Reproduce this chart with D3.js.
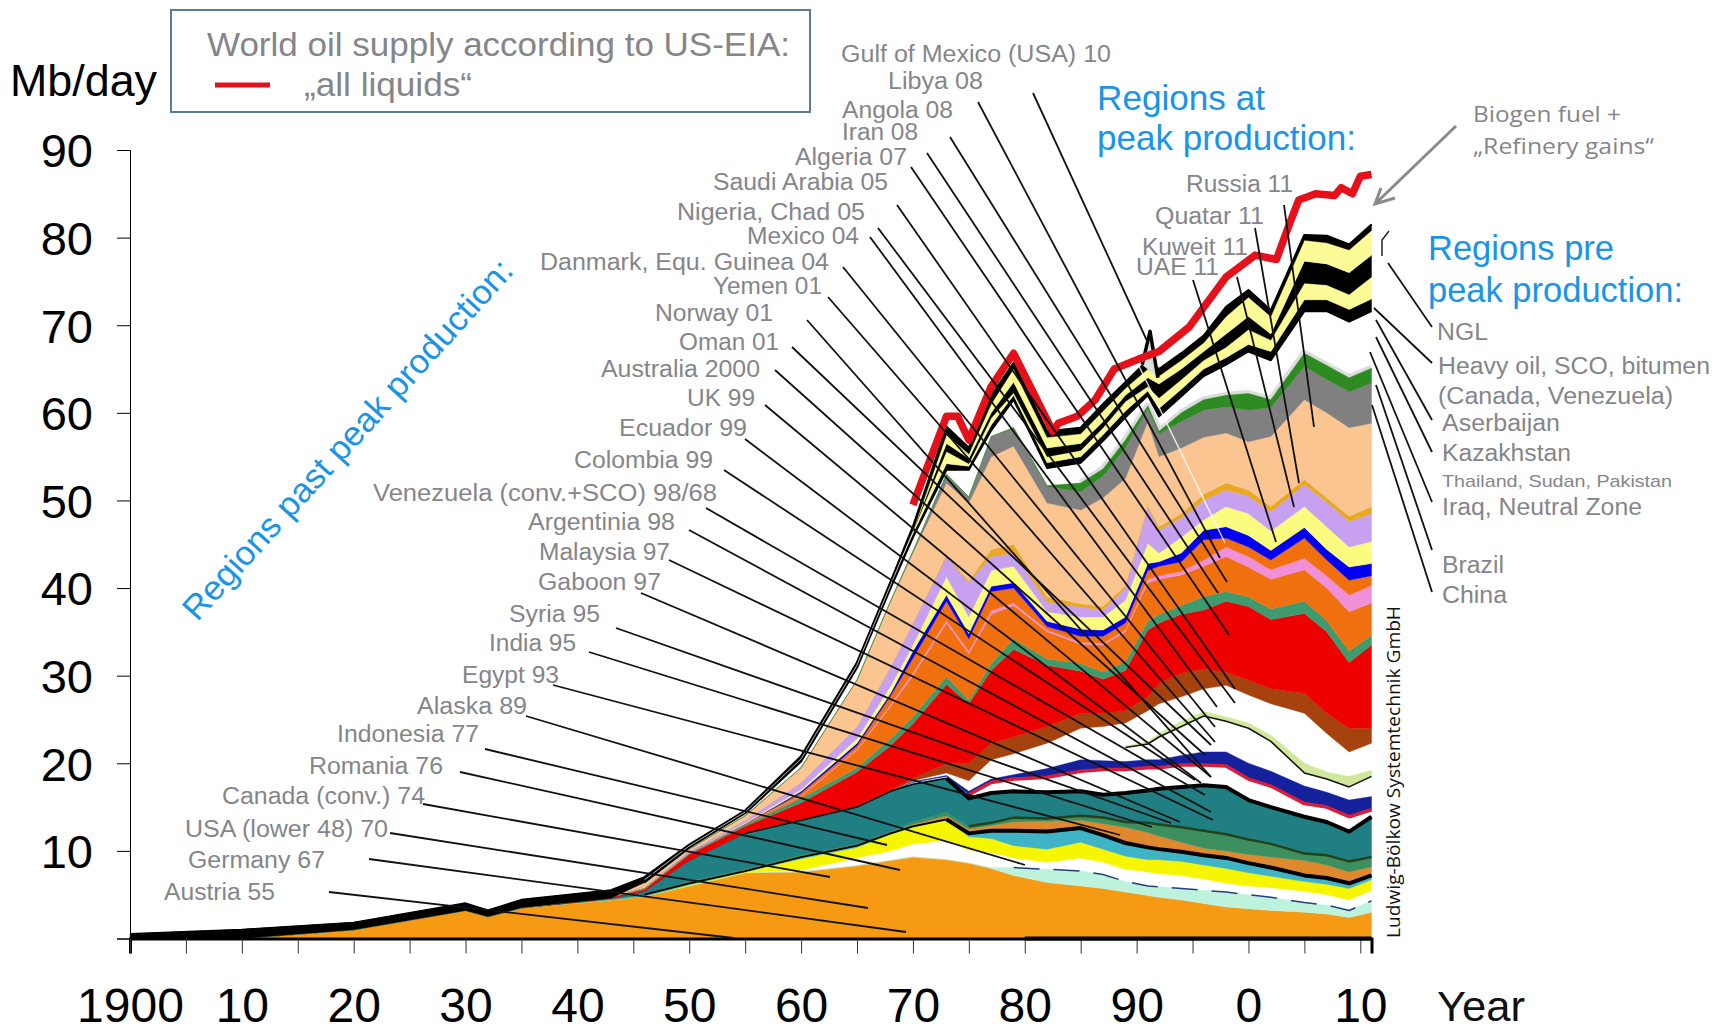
<!DOCTYPE html>
<html>
<head>
<meta charset="utf-8">
<script src="https://cdn.jsdelivr.net/npm/d3@7"></script>
<style>
  html, body { margin: 0; background: #fff; }
  text { font-family: "Liberation Sans", Arial, sans-serif; }
</style>
</head>
<body>
<div id="d3-container"></div>
<script>
// years the picture was read at, one value per year in every array below
const years = [1900,1910,1920,1930,1932,1935,1943,1946,1950,1955,1960,1965,1968,1970,1973,1975,1977,1979,1982,1985,1987,1989,1991,1992,1994,1996,1998,2000,2002,2005,2007,2009,2011];

// upper edges of the layers in Mb/day, bottom to top
const orangeTop = [0,0,1,3.2,2.5,3.5,4.4,4.8,6,7.5,7.6,8.3,8.9,9.3,9,8.6,8,7.2,6.4,6,5.7,5.3,4.9,4.7,4.4,4,3.6,3.4,3.2,3,2.8,2.4,3];
const mintTop = [0,0,1,3.2,2.5,3.5,4.4,4.8,6,7.5,7.6,8.3,8.9,9.3,9,8.6,8.1,8.1,7.9,7.7,7.3,6.5,6,5.9,5.7,5.5,5.3,5,4.7,4.1,3.8,3.2,4.3];
const yellowBase = [0,0,1,3.2,2.5,3.5,4.4,4.8,6,7.5,7.8,9.2,10,10.8,11.2,10.1,9.8,9.2,8.7,9.2,8.7,7.9,7.6,7.4,7.2,6.8,6.3,6,5.8,5.4,5,4.4,5.5];
const yellowTop = [0,0,1,3.2,2.5,3.5,4.4,4.8,6.1,7.6,9.1,10.4,11.9,12.7,13.5,11.6,11.4,10.6,10.2,11,10.2,9.4,9,9,8.8,8.4,8,7.5,7.1,6.5,6.2,5.7,6.7];
const cyanTop = [0,0,1,3.2,2.5,3.5,4.5,5,6.3,7.7,9.3,10.6,12,12.8,13.6,12,12.3,12.3,12.2,12.6,11.8,10.9,10.4,10.2,9.9,9.5,9.2,8.6,8.1,7.2,6.9,6.3,7.2];
const rustTop = [0,0,1,3.2,2.5,3.5,4.5,5,6.4,7.8,9.4,10.7,12.1,13,14,12.5,12.9,13.3,13.4,13.5,13.1,12.7,12.1,11.7,11,10.3,10,9.6,9.3,8.9,8.4,7.6,8.2];
const greenLowTop = [0,0,1,3.2,2.5,3.5,4.5,5,6.5,7.9,9.5,10.8,12.2,13.3,14.4,12.8,13.2,13.8,13.7,14,13.8,13.3,13.2,13,12.7,12.3,11.9,11.3,10.8,9.7,9.5,8.8,9.3];
const tealTop = [0,0,1,3.2,2.5,3.5,4.6,5.4,8.9,12,13.5,15,16.8,17.6,18.3,16,16.6,16.8,16.7,16.8,16.4,16.6,16.9,17.1,17.3,17.5,17.3,15.8,15,13.9,13.3,12.2,13.9];
const bandBase = [0,0,1,3.2,2.5,3.5,4.6,5.4,8.9,12,13.5,15,16.8,17.8,18.5,16.4,17.8,18.2,18.4,19.1,19.3,19.3,19.5,19.5,19.8,19.8,19.7,18.2,17.4,15.4,15,13.9,14.7];
const bandTop = [0,0,1,3.2,2.5,3.5,4.6,5.4,8.9,12,13.5,15,16.8,17.9,18.6,16.8,18.2,18.7,19.4,20.4,20.3,20.2,20.4,20.4,20.9,21.3,21.3,20,19.1,17.4,16.7,15.8,16.2];
const thinBase = [null,null,null,null,null,null,null,null,null,null,null,null,null,null,null,null,null,null,null,null,null,21.8,22.2,23,24.2,25.4,24.8,24,22.5,18.9,18.2,17.3,18.5];
const thinTop = [null,null,null,null,null,null,null,null,null,null,null,null,null,null,null,null,null,null,null,null,null,22,22.5,23.4,24.8,25.9,25.3,24.6,23.2,20,19,18.5,19.2];
const brownBase = [0,0,1,3.2,2.5,3.5,4.6,5.4,8.9,12,13.5,15,16.8,18,18.9,18,20.4,21.1,22.3,24,24.2,24.6,26,26.8,27.6,28.5,28.9,27.8,26.8,25.7,23.4,21.3,22.3];
const brownTop = [0,0,1,3.2,2.5,3.5,4.6,5.4,8.9,12,13.5,15,16.9,18.3,20,20,22.3,23,24.2,25.7,25.7,26,27.6,29.1,30.3,30.8,30.4,29.5,28.5,28,25.7,24,24];
const redTop = [0,0,1,3.2,2.5,3.5,4.7,5.6,9.6,12.8,15.5,19,22,24.5,29,26.8,30.6,33,31.2,30.5,29.6,30.6,35.2,36,37,37.5,38.5,37.9,36.4,37.1,35,31.5,33.5];
const seaTop = [0,0,1,3.2,2.5,3.5,4.7,5.7,9.7,13,16,19.5,22.8,25.3,29.9,27.2,31.4,34.2,31.9,31.4,30.4,31.6,36.2,37,38,39,39.6,39,37.6,38.5,36.3,32.8,34.6];
const flameLowTop = [0,0,1,3.2,2.5,3.5,4.8,5.8,9.8,13.1,16.2,21.5,26.5,30,36,32.5,37,38,35,33.6,33.5,35,40.6,41,41.5,42.5,43.6,42.4,41,42.1,40,37.3,38.3];
const pinkTop = [0,0,1,3.2,2.5,3.5,4.8,5.8,9.8,13.1,16.3,21.6,26.7,30.3,36.3,32.8,37.4,38.3,35.2,33.8,33.7,35.2,41,41.4,41.9,43.2,44.7,43.6,42.1,43.4,41.4,39.2,40.3];
const flameHighTop = [0,0,1,3.2,2.5,3.5,4.8,5.8,9.8,13.1,16.6,22,27.7,32,38.5,34.2,39.6,40,35.6,34.5,34.5,36,42,42.5,43,45.5,45.7,44.7,43.2,45.7,43.2,40.9,41.4];
const blueTop = [0,0,1,3.2,2.5,3.5,4.8,5.8,9.8,13.1,16.8,22.3,28,32.8,39.2,34.8,40.2,40.6,36.2,35.3,35.2,36.7,42.8,43,44,46.6,47,46,44.3,46.9,44.4,42.4,42.8];
const paleTop = [0,0,1,3.2,2.5,3.5,4.8,5.9,9.8,13.2,17,22.8,28.8,33.5,41.3,36.7,42,42.5,37.3,36.7,36.7,38.6,45.1,44,45.8,47.8,49.3,48.5,46.5,49.3,47,44.7,45.3];
const purpleTop = [0,0,1,3.2,2.5,3.5,4.8,6,10,13.5,17.8,24.2,31,36,43.6,40.6,43.6,44,38.4,37.8,37.5,40,49.3,46.6,48,50,51.2,50.5,48.7,51.8,49.8,47.6,48.5];
const goldTop = [0,0,1,3.2,2.5,3.5,4.8,6,10,13.5,17.8,24.2,31,36,43.8,40.8,44.4,45,39,38.2,37.9,40.3,49.5,47,48.5,50.7,52,51.2,49.3,52.4,50.3,48.2,49.3];
const peachTop = [0,0,1,3.2,2.5,3.5,4.9,6.4,10.2,14,19.5,29.5,38.5,44,52,49.7,55,56.2,49.7,48.9,50.3,52.5,59,55,56,57.2,57.7,56.7,57.3,61.5,60,58.3,58.8];
const greyTop = [0,0,1,3.2,2.5,3.5,4.9,6.4,10.2,14,19.5,29.5,38.5,44.2,53,50.4,57.3,58.3,51.6,51,52.8,56,60.5,57.6,59,60.3,60.7,60.3,60.6,65.3,63.8,62.4,63.4];
const greenHighTop = [0,0,1,3.2,2.5,3.5,4.9,6.4,10.2,14,19.5,29.5,38.5,44.2,53,50.4,57.3,58.3,51.7,52,53.6,56.9,60.8,57.9,60,61.5,62,62.2,61.5,66.8,65.4,64,65.1];

// the black and yellow bands on top of the stack
const stackBase = [0,0,1,3.2,2.5,3.5,4.6,6.4,10.4,14.3,20.2,30.9,40,45.8,53.5,53.5,58,61.5,53.7,54.3,56.8,59.5,62,59.6,61.9,64.2,65.5,67,66,71.6,71.6,70.4,71.6];
const yellowOneBase = [0.5,1,1.8,4,3.2,4.4,5.5,7,10.7,14.6,20.8,31.5,40.7,46.2,54.2,53.9,58.6,62,54.3,55,57.5,60.2,62.5,60.5,62.7,65,66.3,67.8,67,72.9,72.9,71.8,73];
const yellowOneTop = [0.5,1,1.8,4,3.2,4.4,5.5,7,10.7,14.6,20.8,31.5,40.7,46.5,55.6,54.2,59.4,62.3,55,55.7,58.3,61.3,63,61.7,63.8,66,67.5,69.5,68.3,74.8,74.6,73.5,75.5];
const yellowTwoBase = [0.5,1,1.8,4,3.2,4.4,5.5,7,10.7,14.6,20.8,31.5,40.7,46.5,56.5,54.8,60,63.5,56,56.5,59,62,64,63.3,65,67,69,71,69,77.3,77,76,78];
const yellowTwoTop = [0.5,1,1.8,4,3.2,4.4,5.5,7,10.7,14.6,20.8,31.5,40.7,46.5,57.5,55.3,61,65,57.2,57.6,60.2,62.8,65,64.2,66,68,71,73.2,71,79.7,79.4,78.6,80.8];
const stackTop = [0.5,1,1.8,4,3.2,4.4,5.5,7,10.7,14.6,20.8,31.5,40.7,47,58.4,56,62,65.7,57.9,58.3,61,63.5,66,65,66.8,68.8,72.1,74,71.7,80.3,80.2,79.2,81.5];

// light seam inside the black bundle before 1970
const seamYears = [1946,1950,1955,1960,1965,1968,1970];
const seamValues = [6.7,10.55,14.45,20.5,31.2,40.35,46.4];

// narrow spike of the black bundle at the 1991 peak
const spikeYears = [1990.5,1991.2,1991.9];
const spikeValues = [65.5,69.3,64];

// red "all liquids" line
const liquidYears = [1970,1973,1974,1975,1977,1979,1982.5,1983,1984.7,1986.3,1988,1990.7,1992,1994.7,1998,2000.6,2002.5,2003.5,2004.5,2006,2007.7,2008.3,2009.3,2010,2011];
const liquidValues = [49.5,59.6,59.6,56.9,63,66.8,57.9,58.8,59.6,61.5,65,66.4,67,69.8,75.5,78,77.5,81,84.3,85,84.8,85.7,85,87,87.2];

const yTicks = [0,10,20,30,40,50,60,70,80,90];
const xTickYears = [1900,1905,1910,1915,1920,1925,1930,1935,1940,1945,1950,1955,1960,1965,1970,1975,1980,1985,1990,1995,2000,2005,2010];
const xTickNames = ["1900","","10","","20","","30","","40","","50","","60","","70","","80","","90","","0","","10"];

// name, then left, right and middle of the text, then the leader line
const pastPeak = [
  ["Gulf of Mexico (USA) 10",841,1111,54,1033,93,1148,343],
  ["Libya 08",888,983,81,978,102,1220,558],
  ["Angola 08",842,953,110,950,137,1227,582],
  ["Iran 08",842,918,132,927,153,1218,593],
  ["Algeria 07",795,907,157,911,167,1229,635],
  ["Saudi Arabia 05",713,888,182,897,205,1235,689],
  ["Nigeria, Chad 05",677,865,212,878,228,1235,703],
  ["Mexico 04",747,859,236,870,237,1217,707],
  ["Danmark, Equ. Guinea 04",540,829,262,843,267,1215,727],
  ["Yemen 01",713,822,286,828,297,1215,742],
  ["Norway 01",655,773,313,807,320,1211,777],
  ["Oman 01",679,779,342,792,347,1211,745],
  ["Australia 2000",601,760,369,775,370,1205,755],
  ["UK 99",687,755,398,765,405,1211,777],
  ["Ecuador 99",619,747,428,745,439,1201,783],
  ["Colombia 99",574,713,460,724,470,1195,780],
  ["Venezuela (conv.+SCO)  98/68",373,717,493,706,508,1205,795],
  ["Argentinia 98",528,675,522,689,530,1211,812],
  ["Malaysia 97",539,670,552,669,560,1213,820],
  ["Gaboon 97",538,661,582,641,593,1180,822],
  ["Syria 95",509,600,614,616,628,1171,823],
  ["India 95",489,576,643,589,652,1152,827],
  ["Egypt 93",462,559,675,553,685,1120,835],
  ["Alaska 89",417,527,706,526,716,1025,865],
  ["Indonesia 77",337,479,734,485,749,887,845],
  ["Romania 76",309,443,766,460,772,900,870],
  ["Canada (conv.) 74",222,425,796,423,804,830,877],
  ["USA (lower 48) 70",185,388,829,390,833,868,908],
  ["Germany 67",188,325,860,369,859,906,932],
  ["Austria 55",164,275,892,329,892,734,938],
  ["Russia 11",1186,1293,184,1284,205,1314,427],
  ["Quatar 11",1155,1264,216,1255,228,1299,483],
  ["Kuweit 11",1142,1248,247,1237,277,1294,507],
  ["UAE 11",1136,1219,267,1193,280,1276,542]
];
const prePeak = [
  ["NGL",1437,1488,332,1388,263,1432,327],
  ["Heavy oil, SCO, bitumen",1438,1710,366,1374,308,1432,363],
  ["(Canada, Venezuela)",1438,1673,396],
  ["Aserbaijan",1442,1560,423,1376,320,1432,420],
  ["Kazakhstan",1442,1571,453,1376,337,1432,452],
  ["Thailand, Sudan, Pakistan",1442,1672,481,1370,352,1432,502],
  ["Iraq, Neutral Zone",1442,1642,507,1376,385,1432,550],
  ["Brazil",1442,1504,565,1372,405,1432,592],
  ["China",1442,1507,595]
];

const width = 1717;
const height = 1033;

const svg = d3.select("#d3-container").append("svg")
  .attr("width", width)
  .attr("height", height)
  .style("display", "block");

const x = d3.scaleLinear().domain([1900, 2011]).range([130, 1371.5]);
const y = d3.scaleLinear().domain([0, 90]).range([938.5, 150]);

// base, top, colour
const layers = [
  [null, orangeTop, "#f59a12"],
  [orangeTop, mintTop, "#bdf3dc"],
  [yellowBase, yellowTop, "#f6f600"],
  [yellowTop, cyanTop, "#3fb4c6"],
  [cyanTop, rustTop, "#e0882e"],
  [rustTop, greenLowTop, "#3c8f5e"],
  [greenLowTop, tealTop, "#1f7f82"],
  [bandBase, bandTop, "#14209c"],
  [thinBase, thinTop, "#cfe89a"],
  [brownBase, brownTop, "#a5420e"],
  [brownTop, redTop, "#ee0000"],
  [redTop, seaTop, "#3e9b6e"],
  [seaTop, flameLowTop, "#f0700f"],
  [flameLowTop, pinkTop, "#f090d8"],
  [pinkTop, flameHighTop, "#f0700f"],
  [flameHighTop, blueTop, "#0000f0"],
  [blueTop, paleTop, "#fbfb80"],
  [paleTop, purpleTop, "#c8a0f0"],
  [purpleTop, goldTop, "#e8a820"],
  [goldTop, peachTop, "#fac590"],
  [peachTop, greyTop, "#808080"],
  [greyTop, greenHighTop, "#2e8b22"],
  [stackBase, yellowOneBase, "#000"],
  [yellowOneBase, yellowOneTop, "#fafa96"],
  [yellowOneTop, yellowTwoBase, "#000"],
  [yellowTwoBase, yellowTwoTop, "#fafa96"],
  [yellowTwoTop, stackTop, "#000"]
];

const bandArea = d3.area()
  .defined(d => d.top != null)
  .x(d => x(d.year))
  .y0(d => y(d.base))
  .y1(d => y(d.top));

function rows(base, top) {
  return years.map((year, i) => ({
    year: year,
    base: base ? base[i] : 0,
    top: top[i]
  }));
}

const edge = d3.line()
  .defined(d => d.top != null)
  .x(d => x(d.year))
  .y(d => y(d.top));

function edgeLine(top, color, w, from, to, dash) {
  svg.append("path")
    .datum(rows(null, top).filter(d => d.year >= from && d.year <= to))
    .attr("d", edge)
    .attr("fill", "none")
    .attr("stroke", color)
    .attr("stroke-width", w)
    .attr("stroke-dasharray", dash || null)
    .attr("stroke-linejoin", "round");
}

// haze above the upper green band goes under everything
edgeLine(greenHighTop, "#dcdcdc", 7, 1985, 2011);

svg.append("g")
  .selectAll("path")
  .data(layers)
  .join("path")
    .attr("d", d => bandArea(rows(d[0], d[1])))
    .attr("fill", d => d[2])
    .attr("stroke", d => d[2])
    .attr("stroke-width", 0.4);

edgeLine(mintTop, "#23407a", 1.5, 1979, 2011, "26 14");
edgeLine(cyanTop, "#000", 1.8, 1946, 1973);
edgeLine(cyanTop, "#000", 4, 1973, 2011);
edgeLine(greenLowTop, "#24431a", 2.5, 1975, 2011);
edgeLine(tealTop, "#000", 1.5, 1955, 1973);
edgeLine(tealTop, "#000", 4, 1973, 2011);
edgeLine(bandBase, "#d81e3a", 3.5, 1975, 2011);
edgeLine(thinBase, "#111", 1.5, 1989, 2011);
edgeLine(stackBase, "#000", 2, 1946, 2011);
edgeLine(stackTop, "#000", 2.2, 1900, 2011);

svg.append("path")
  .datum(d3.zip(seamYears, seamValues))
  .attr("d", d3.line().x(d => x(d[0])).y(d => y(d[1])))
  .attr("fill", "none")
  .attr("stroke", "#fff")
  .attr("stroke-width", 0.9)
  .attr("opacity", 0.8);

svg.append("path")
  .datum(d3.zip(spikeYears, spikeValues))
  .attr("d", d3.line().x(d => x(d[0])).y(d => y(d[1])))
  .attr("fill", "#ddd")
  .attr("stroke", "#000")
  .attr("stroke-width", 3.5)
  .attr("stroke-linejoin", "round");

// slanted white streak through the peach band
svg.append("line")
  .attr("x1", 1120).attr("y1", 327).attr("x2", 1225).attr("y2", 543)
  .attr("stroke", "#fff").attr("stroke-width", 1.5).attr("opacity", 0.8);

svg.append("path")
  .datum(d3.zip(liquidYears, liquidValues))
  .attr("d", d3.line().x(d => x(d[0])).y(d => y(d[1])))
  .attr("fill", "none")
  .attr("stroke", "#e4111b")
  .attr("stroke-width", 7.5)
  .attr("stroke-linejoin", "round");

// axes
const yAxis = svg.append("g")
  .attr("transform", `translate(${x(1900)},0)`)
  .call(d3.axisLeft(y).tickValues(yTicks).tickSizeOuter(0).tickSize(13).tickPadding(24).tickFormat(d => d === 0 ? "" : d));
yAxis.selectAll("text").attr("font-size", 47).attr("fill", "#000").attr("dy", "0.36em").attr("font-family", "Liberation Sans");

const xAxis = svg.append("g")
  .attr("transform", `translate(0,${y(0)})`)
  .call(d3.axisBottom(x).tickValues(xTickYears).tickSizeOuter(0).tickSize(15).tickPadding(34.5).tickFormat((d, i) => xTickNames[i]));
xAxis.selectAll("text").attr("font-size", 48).attr("fill", "#000").attr("font-family", "Liberation Sans");
xAxis.select(".domain").attr("stroke", "#000").attr("stroke-width", 3);
xAxis.selectAll(".tick line").attr("stroke", "#333");

// baseline gets heavier under the last decades
svg.append("line")
  .attr("x1", x(1980)).attr("x2", x(2011))
  .attr("y1", y(0)).attr("y2", y(0))
  .attr("stroke", "#000").attr("stroke-width", 4);

// leaders
const leaders = pastPeak.concat(prePeak).filter(d => d.length > 4);
svg.append("g")
  .selectAll("line")
  .data(leaders)
  .join("line")
    .attr("x1", d => d[4])
    .attr("y1", d => d[5])
    .attr("x2", d => d[6])
    .attr("y2", d => d[7])
    .attr("stroke", "#111")
    .attr("stroke-width", 1.8);

function fitText(txt, x0, x1, ym, size, color, family) {
  return svg.append("text")
    .attr("x", x0)
    .attr("y", ym)
    .attr("dy", "0.36em")
    .attr("textLength", x1 - x0)
    .attr("lengthAdjust", "spacingAndGlyphs")
    .attr("font-size", size)
    .attr("fill", color)
    .style("font-family", family || null)
    .text(txt);
}

pastPeak.concat(prePeak).forEach(d => {
  const small = d[0].startsWith("Thailand");
  fitText(d[0], d[1], d[2], d[3], small ? 17 : 23, "#85858a");
});

// small stub next to the NGL leader
svg.append("path")
  .attr("d", d3.line()([[1389, 231], [1382, 240], [1382, 256]]))
  .attr("fill", "none").attr("stroke", "#222").attr("stroke-width", 1.5);

// grey arrow
svg.append("path")
  .attr("d", d3.line()([[1456, 126], [1375, 204]]) + d3.line()([[1381, 188], [1375, 204], [1395, 198]]))
  .attr("fill", "none").attr("stroke", "#8a8a8a").attr("stroke-width", 3);

fitText("Biogen fuel +", 1473, 1621, 114, 21, "#85858a", "Open Sans");
fitText("„Refinery gains“", 1473, 1654, 146, 21, "#85858a", "Open Sans");

const blue = "#1a94e6";
fitText("Regions at", 1097, 1265, 97, 35, blue);
fitText("peak production:", 1097, 1356, 137, 35, blue);
fitText("Regions pre", 1428, 1614, 247, 35, blue);
fitText("peak production:", 1428, 1683, 289, 35, blue);

svg.append("text")
  .attr("transform", "translate(347,439) rotate(-47.8)")
  .attr("text-anchor", "middle")
  .attr("dy", "0.36em")
  .attr("textLength", 473)
  .attr("lengthAdjust", "spacingAndGlyphs")
  .attr("font-size", 34)
  .attr("fill", blue)
  .text("Regions past peak production:");

svg.append("text")
  .attr("transform", "translate(1393,938) rotate(-90)")
  .attr("dy", "0.36em")
  .attr("textLength", 332)
  .attr("lengthAdjust", "spacingAndGlyphs")
  .attr("font-size", 19)
  .attr("fill", "#111")
  .style("font-family", "Open Sans")
  .text("Ludwig-Bölkow Systemtechnik GmbH");

// header
fitText("Mb/day", 10, 157, 80, 45, "#000");
fitText("Year", 1437, 1525, 1006, 42, "#111");

svg.append("rect")
  .attr("x", 171).attr("y", 10).attr("width", 639).attr("height", 102)
  .attr("fill", "none").attr("stroke", "#5b7a93").attr("stroke-width", 2);
fitText("World oil supply according to US-EIA:", 207, 790, 44, 34, "#85858a");
svg.append("line")
  .attr("x1", 215).attr("x2", 270).attr("y1", 85).attr("y2", 85)
  .attr("stroke", "#e4111b").attr("stroke-width", 5);
fitText("„all liquids“", 304, 472, 84, 34, "#85858a");
</script>
</body>
</html>
